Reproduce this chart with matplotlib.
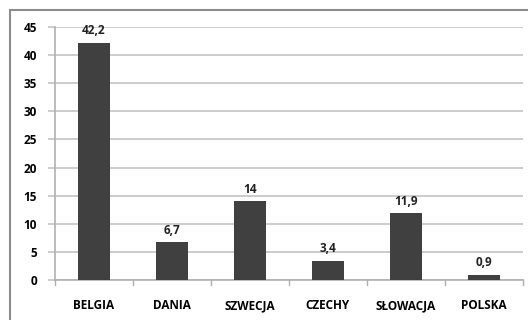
import matplotlib.pyplot as plt
from matplotlib.patches import Rectangle

kraje = ['BELGIA', 'DANIA', 'SZWECJA', 'CZECHY', 'SŁOWACJA', 'POLSKA']
wartosci = [42.2, 6.7, 14, 3.4, 11.9, 0.9]
etykiety = ['42,2', '6,7', '14', '3,4', '11,9', '0,9']
y_ticks = [0, 5, 10, 15, 20, 25, 30, 35, 40, 45]

plt.rcParams['font.family'] = ['Open Sans', 'DejaVu Sans']
plt.rcParams['font.weight'] = 'bold'

fig = plt.figure(figsize=(5.28, 3.2), dpi=100)
ax = fig.add_axes([55 / 528, 40 / 320, 468 / 528, 253 / 320])

# ramka wykresu (ucięta z prawej i od dołu)
fig.patches.append(Rectangle((10 / 528, -0.1), 1.2, (310 / 320) + 0.1,
                             transform=fig.transFigure, fill=False,
                             edgecolor='#8c8c8c', linewidth=1.5))

x = range(len(kraje))
ax.bar(x, wartosci, width=0.4, color='#404040', zorder=3)

for xi, v, t in zip(x, wartosci, etykiety):
    ax.annotate(t, (xi, v), xytext=(0, 4), textcoords='offset points',
                ha='center', va='bottom', fontsize=8.5, fontweight='bold',
                color='#222222')

ax.set_xlim(-0.5, len(kraje) - 0.5)
ax.set_ylim(0, 45)
ax.set_yticks(y_ticks)
ax.set_yticklabels([str(v) for v in y_ticks], fontsize=8.5, fontweight='bold')
ax.yaxis.grid(True, color='#c4c4c4', linewidth=1.2, zorder=0)

ax.set_xticks(list(x))
ax.set_xticklabels(kraje, fontsize=8.5, fontweight='bold')
ax.tick_params(axis='x', length=0, pad=14)
ax.tick_params(axis='y', length=5, color='#c4c4c4', width=1.2, pad=8)

# znaczniki między kategoriami na osi X
for b in [i + 0.5 for i in range(-1, len(kraje))]:
    ax.plot([b, b], [0, -0.9], color='#b0b0b0', linewidth=1.0,
            clip_on=False, zorder=2)

for s in ['top', 'right']:
    ax.spines[s].set_visible(False)
ax.spines['left'].set_color('#b0b0b0')
ax.spines['bottom'].set_color('#b0b0b0')
ax.spines['left'].set_linewidth(1.2)
ax.spines['bottom'].set_linewidth(1.2)

fig.savefig('out.png', dpi=100)
